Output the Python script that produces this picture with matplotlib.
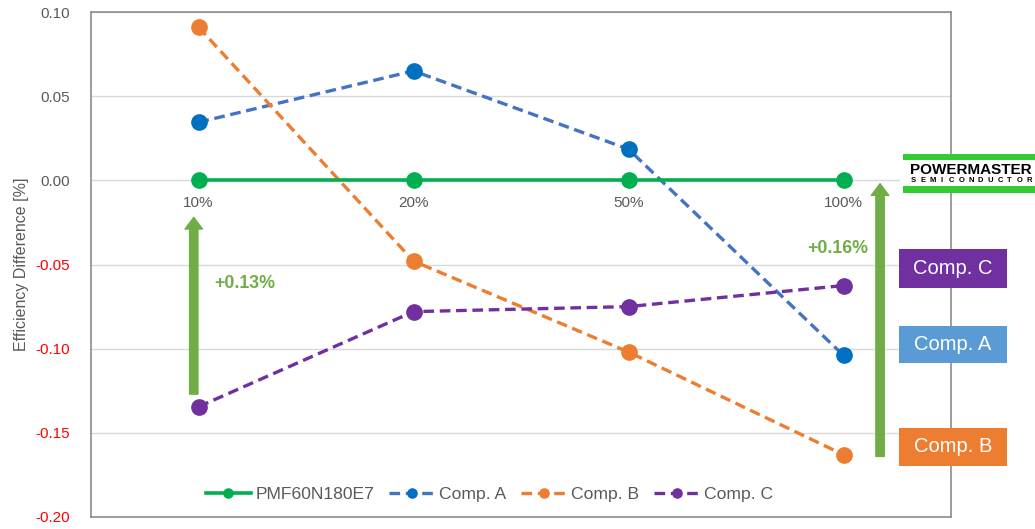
import matplotlib.pyplot as plt
from matplotlib.patches import Rectangle

plt.rcParams['font.family'] = ['Liberation Sans', 'DejaVu Sans']

# load points and efficiency differences [%]
loads = ['10%', '20%', '50%', '100%']
pmf = [0.0, 0.0, 0.0, 0.0]
comp_a = [0.0345, 0.065, 0.0185, -0.104]
comp_b = [0.091, -0.048, -0.102, -0.163]
comp_c = [-0.1345, -0.078, -0.075, -0.0625]
gain_labels = ['+0.13%', '+0.16%']
gain_from = [-0.127, -0.164]
gain_to = [-0.022, -0.002]
box_names = ['Comp. C', 'Comp. A', 'Comp. B']
box_colors = ['#7030A0', '#5B9BD5', '#ED7D31']

W, H = 1035, 529
fig = plt.figure(figsize=(W / 100, H / 100), dpi=100)
ax = fig.add_axes([91 / W, 12 / H, 860 / W, 505 / H])

gray = '#595959'
x = list(range(len(loads)))
dash = (3.2, 1.7)

ax.plot(x, pmf, color='#00B050', lw=2.6, marker='o', ms=11, label='PMF60N180E7', zorder=5)
ax.plot(x, comp_a, color='#4472C4', lw=2.4, dashes=dash, marker='o', ms=11,
        mfc='#0070C0', mec='#0070C0', label='Comp. A', zorder=4)
ax.plot(x, comp_b, color='#ED7D31', lw=2.4, dashes=dash, marker='o', ms=11,
        label='Comp. B', zorder=4)
ax.plot(x, comp_c, color='#7030A0', lw=2.4, dashes=dash, marker='o', ms=11,
        label='Comp. C', zorder=4)

ax.set_xlim(-0.5, 3.5)
ax.set_ylim(-0.20, 0.10)
ax.set_yticks([0.10, 0.05, 0.00, -0.05, -0.10, -0.15, -0.20])
ax.set_yticklabels(['%.2f' % v for v in ax.get_yticks()])
for lab, v in zip(ax.get_yticklabels(), ax.get_yticks()):
    lab.set_color('#FF0000' if v < 0 else gray)
ax.tick_params(axis='y', length=0, labelsize=11, pad=15)
ax.set_xticks([])
ax.grid(axis='y', color='#D9D9D9', lw=1)
ax.set_axisbelow(True)
for s in ax.spines.values():
    s.set_color('#8C8C8C')
    s.set_linewidth(1.2)
ax.set_ylabel('Efficiency Difference [%]', color=gray, fontsize=11.5, labelpad=5)

# category names sit just under the zero line
for xi, name in zip(x, loads):
    ax.annotate(name, (xi, 0), xytext=(0, -16.5), textcoords='offset points',
                ha='center', va='center', color=gray, fontsize=11)

# improvement arrows
arrow_green = '#70AD47'
arrow_x = [-0.022, 3.17]
text_pos = [(0.214, -0.0615), (2.974, -0.0405)]
for ax_x, y0, y1, txt, (tx, ty) in zip(arrow_x, gain_from, gain_to, gain_labels, text_pos):
    ax.annotate('', xy=(ax_x, y1), xytext=(ax_x, y0),
                arrowprops=dict(arrowstyle='simple,head_length=0.6,head_width=0.9,tail_width=0.43',
                                mutation_scale=14, color=arrow_green, shrinkA=0, shrinkB=0),
                annotation_clip=False)
    ax.text(tx, ty, txt, color=arrow_green, fontsize=12.8, fontweight='bold',
            ha='center', va='center')

leg = ax.legend(loc='center', bbox_to_anchor=(0.463, 0.0455), ncol=4, frameon=False,
                fontsize=12.6, handlelength=2.6, columnspacing=0.85, handletextpad=0.25,
                markerscale=0.6, labelcolor=gray)

# name boxes on the right
box_rows = [(249, 288), (326, 363), (428, 466)]
for (top, bot), name, col in zip(box_rows, box_names, box_colors):
    fig.patches.append(Rectangle((899 / W, (H - bot) / H), 108 / W, (bot - top) / H,
                                 transform=fig.transFigure, facecolor=col,
                                 edgecolor='none', zorder=10))
    fig.text(953 / W, (H - (top + bot) / 2) / H, name, color='white', fontsize=14.5,
             ha='center', va='center', zorder=11)

# company logo
fig.patches.append(Rectangle((900 / W, (H - 193) / H), 135 / W, 39 / H,
                             transform=fig.transFigure, facecolor='white',
                             edgecolor='none', zorder=10))
for top, bot in [(154, 160), (186, 193)]:
    fig.patches.append(Rectangle((903 / W, (H - bot) / H), 132 / W, (bot - top) / H,
                                 transform=fig.transFigure, facecolor='#33CC33',
                                 edgecolor='none', zorder=11))
fig.text(971 / W, (H - 170.5) / H, 'POWERMASTER', color='black', fontsize=11,
         fontweight='heavy', ha='center', va='center', zorder=12)
sub = 'SEMICONDUCTOR'
for i, ch in enumerate(sub):
    fig.text((913 + i * 116 / (len(sub) - 1)) / W, (H - 181) / H, ch, color='black',
             fontsize=5.5, fontweight='bold', ha='center', va='center', zorder=12)

fig.savefig('out.png', dpi=100)
